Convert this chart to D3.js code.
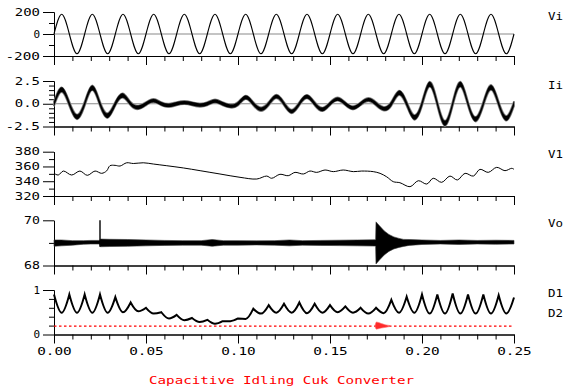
<!DOCTYPE html>
<html><head><meta charset="utf-8">
<script src="https://cdn.jsdelivr.net/npm/d3@7"></script>
<style>
body{margin:0;background:#fff}
svg{display:block}
text{font-family:"DejaVu Sans Mono",monospace;}
</style></head><body>
<svg id="c" width="567" height="392"></svg>
<script>
// ---------------- data ----------------
const timeDomain = [0, 0.25];
const xMajorTicks = [0, 0.05, 0.10, 0.15, 0.20, 0.25];
const xTickLabels = ["0.00", "0.05", "0.10", "0.15", "0.20", "0.25"];
const xMinorTicks = [0.01,0.02,0.03,0.04,0.06,0.07,0.08,0.09,0.11,0.12,0.13,0.14,0.16,0.17,0.18,0.19,0.21,0.22,0.23,0.24];
const quarterPeriod = 1 / 240; // 60 Hz mains: samples at zero crossings and peaks

const seriesNames = ["Vi", "Ii", "V1", "Vo", "D1", "D2"];
const title = "Capacitive Idling Cuk Converter";

// Vi: signed peak of each half cycle
const viPeaks = [180,-180,180,-180,180,-180,180,-180,180,-180,180,-180,180,-180,180,-180,180,-180,180,-180,180,-180,180,-180,180,-180,180,-180,180,-180];
// Ii: signed peak (band centre) of each half cycle and ripple half-band
const iiPeaks = [1.55,-1.45,1.75,-1.3,0.9,-0.4,0.35,-0.18,0.13,-0.15,0.3,-0.25,0.7,-0.6,0.8,-0.85,0.78,-0.62,0.52,-0.45,0.45,-0.55,1.2,-1.5,2.15,-2.15,2.15,-1.7,1.8,-1.6];
const iiBand  = [0.26,0.26,0.26,0.26,0.24,0.2,0.18,0.18,0.18,0.18,0.18,0.18,0.2,0.2,0.2,0.2,0.2,0.2,0.18,0.18,0.18,0.2,0.24,0.26,0.28,0.28,0.28,0.26,0.26,0.26];

// V1
const v1T = [0,0.0023,0.0051,0.0096,0.0141,0.0181,0.0223,0.0259,0.0286,0.0304,0.0332,0.0359,0.0395,0.0431,0.0485,0.054,0.0613,0.0703,0.0794,0.0902,0.1011,0.1102,0.1156,0.1183,0.1228,0.1273,0.131,0.1355,0.1391,0.1428,0.1473,0.1518,0.1572,0.1627,0.1672,0.1735,0.1772,0.1808,0.1844,0.188,0.1935,0.198,0.2026,0.2061,0.2107,0.2152,0.2192,0.2234,0.2279,0.2315,0.236,0.2406,0.2451,0.2488,0.25];
const v1V = [350.7,348.4,353.8,348.4,353.8,348,353.8,350.7,354,361,361.5,360.6,365,364,365,363.3,361,358,354.3,349.8,345.3,343,347,344,349.4,347.5,352,349.8,353.8,352,355.2,353,355.2,353,353.8,353,350.7,346,339.4,338,332.6,340.7,336.2,344,338.5,347,341.7,350.7,347,356.1,352,358.8,354.3,357.5,356.1];

// Vo: band centre and half width
const voT    = [0,0.004,0.01,0.016,0.02,0.0248,0.0252,0.03,0.04,0.05,0.06,0.07,0.08,0.086,0.092,0.1,0.11,0.12,0.128,0.135,0.145,0.155,0.165,0.1748,0.175,0.177,0.1795,0.182,0.1847,0.1875,0.19,0.193,0.2,0.21,0.22,0.23,0.24,0.25];
const voMid  = [68.99,69.0,69.0,69.02,69.03,69.03,69.0,69.0,69.0,69.0,69.0,69.0,69.0,69.0,69.0,69.0,69.0,69.0,69.0,69.0,69.0,69.0,69.0,69.0,69.0,69.0,69.0,69.0,69.0,69.0,69.0,69.02,69.03,69.03,69.03,69.03,69.03,69.03];
const voHalf = [0.14,0.13,0.1,0.08,0.08,0.08,0.17,0.16,0.15,0.13,0.11,0.1,0.1,0.15,0.1,0.1,0.09,0.1,0.13,0.1,0.11,0.12,0.13,0.14,0.93,0.75,0.53,0.375,0.265,0.2,0.155,0.13,0.1,0.08,0.1,0.08,0.09,0.08];
const voSpikeT = [0.025, 0.025];
const voSpikeV = [68.83, 70.0];

// D1: values at mains zero crossings (cusps) and at mains peaks (troughs)
const d1Peaks   = [0.9,0.9,0.9,0.9,0.84,0.72,0.6,0.5,0.44,0.37,0.33,0.3,0.36,0.58,0.66,0.69,0.72,0.69,0.66,0.63,0.6,0.6,0.78,0.85,0.9,0.9,0.92,0.9,0.9,0.88,0.83];
const d1Troughs = [0.49,0.49,0.49,0.49,0.5,0.52,0.47,0.36,0.32,0.28,0.24,0.3,0.35,0.47,0.49,0.49,0.48,0.49,0.5,0.49,0.47,0.48,0.49,0.49,0.47,0.47,0.47,0.47,0.47,0.47];
// D2
const d2T = [0, 0.25];
const d2V = [0.19, 0.19];
const d2BurstT    = [0.1745,0.1752,0.1765,0.178,0.18,0.1825];
const d2BurstMid  = [0.19,0.2,0.2,0.195,0.19,0.19];
const d2BurstHalf = [0.02,0.08,0.07,0.05,0.03,0.012];

// panels: domain, major ticks, labels, minor ticks
const panelDomains = [[-200,200],[-2.5,2.5],[320,380],[68,70],[0,1]];
const panelMajor = [[-200,0,200],[-2.5,0,2.5],[320,340,360,380],[68,70],[0,1]];
const panelMajorLabels = [["-200","0","200"],["-2.5","0.0","2.5"],["320","340","360","380"],["68","70"],["0","1"]];
const panelMinor = [[-100,100],[-2,-1.5,-1,-0.5,0.5,1,1.5,2],[330,350,370],[69],[0.2,0.4,0.6,0.8]];

// ---------------- layout ----------------
const svg = d3.select("#c");
const x = d3.scaleLinear(timeDomain, [54, 514]);
const panelTop = [12, 81, 151.7, 220.3, 290];
const panelBottom = [56, 126.5, 196, 265.5, 334.5];
const ys = panelDomains.map((d, i) => d3.scaleLinear(d, [panelBottom[i], panelTop[i]]));

const FONT = 9.6, ADV = 9.3, GLYPH = 6.6;
function fitText(sel, n, adv, g) {
  sel.attr("textLength", n * adv - (adv - g)).attr("lengthAdjust", "spacingAndGlyphs");
}

ys.forEach((y, i) => {
  const g = svg.append("g");
  const ax = g.append("g").attr("transform", `translate(${x(0)},0)`)
    .call(d3.axisLeft(y).tickValues(panelMajor[i]).tickSize(11).tickSizeOuter(0).tickPadding(3)
      .tickFormat((d, k) => panelMajorLabels[i][k]));
  ax.append("g").call(d3.axisLeft(y).tickValues(panelMinor[i]).tickSize(5).tickSizeOuter(0).tickFormat(""));
  const bx = g.append("g").attr("transform", `translate(0,${panelBottom[i]})`)
    .call(d3.axisBottom(x).tickValues(xMajorTicks).tickSize(9).tickSizeOuter(0).tickPadding(5)
      .tickFormat((d, k) => i === 4 ? xTickLabels[k] : ""));
  bx.append("g").call(d3.axisBottom(x).tickValues(xMinorTicks).tickSize(5).tickSizeOuter(0).tickFormat(""));
  g.selectAll(".domain").attr("stroke", "#000").attr("stroke-width", 1);
  g.selectAll(".tick line").attr("stroke", "#000").attr("stroke-width", 1);
  g.selectAll("text").attr("font-family", '"DejaVu Sans Mono",monospace').attr("font-size", FONT).attr("fill", "#000")
    .each(function () { const t = d3.select(this); const s = t.text(); if (s) fitText(t, s.length, ADV, GLYPH); });
});

// zero lines in Vi / Ii
[0, 1].forEach(i => {
  svg.append("line").attr("x1", x(0)).attr("x2", x(0.25)).attr("y1", ys[i](0)).attr("y2", ys[i](0))
    .attr("stroke", "#8a8a8a").attr("stroke-width", 1.2);
});

const grid = d3.range(0, 61).map(j => j * quarterPeriod);
// Vi
const viPts = grid.map((t, j) => [t, j % 2 ? viPeaks[(j - 1) / 2] : 0]);
svg.append("path").datum(viPts)
  .attr("d", d3.line().x(d => x(d[0])).y(d => ys[0](d[1])).curve(d3.curveNatural))
  .attr("fill", "none").attr("stroke", "#000").attr("stroke-width", 1.1);

// Ii band
const iiPts = grid.map((t, j) => {
  const h = j % 2 ? (j - 1) / 2 : Math.min(j / 2, 29);
  return { t, v: j % 2 ? iiPeaks[h] : 0, b: iiBand[h] };
});
const iiArea = d3.area().x(d => x(d.t)).y0(d => ys[1](d.v - d.b)).y1(d => ys[1](d.v + d.b)).curve(d3.curveNatural);
svg.append("path").datum(iiPts).attr("d", iiArea)
  .attr("fill", "none").attr("stroke", "#9a9a9a").attr("stroke-width", 1.8);
svg.append("path").datum(iiPts).attr("d", iiArea)
  .attr("fill", "#000").attr("stroke", "#000").attr("stroke-width", 0.4);

// V1
svg.append("path").datum(v1T.map((t, k) => [t, v1V[k]]))
  .attr("d", d3.line().x(d => x(d[0])).y(d => ys[2](d[1])).curve(d3.curveCatmullRom.alpha(0.5)))
  .attr("fill", "none").attr("stroke", "#000").attr("stroke-width", 1);

// Vo band
svg.append("path").datum(voT.map((t, k) => ({ t, m: voMid[k], h: voHalf[k] })))
  .attr("d", d3.area().x(d => x(d.t)).y0(d => ys[3](d.m - d.h)).y1(d => ys[3](d.m + d.h)))
  .attr("fill", "#000").attr("stroke", "#333").attr("stroke-width", 0.6);
svg.append("path").datum(voSpikeT.map((t, k) => [t, voSpikeV[k]]))
  .attr("d", d3.line().x(d => x(d[0])).y(d => ys[3](d[1])))
  .attr("stroke", "#000").attr("stroke-width", 1.4);

// D2 (under D1)
svg.append("path").datum(d2T.map((t, k) => [t, d2V[k]]))
  .attr("d", d3.line().x(d => x(d[0])).y(d => ys[4](d[1])))
  .attr("fill", "none").attr("stroke", "#ff0000").attr("stroke-width", 1.3).attr("stroke-dasharray", "2.5,2.5");
svg.append("path").datum(d2BurstT.map((t, k) => ({ t, m: d2BurstMid[k], h: d2BurstHalf[k] })))
  .attr("d", d3.area().x(d => x(d.t)).y0(d => ys[4](d.m - d.h)).y1(d => ys[4](d.m + d.h)).curve(d3.curveMonotoneX))
  .attr("fill", "#ff2a2a").attr("stroke", "#ff8080").attr("stroke-width", 0.6);

// D1
const d1Pts = grid.map((t, j) => [x(t), ys[4](j % 2 ? d1Troughs[(j - 1) / 2] : d1Peaks[j / 2]), j % 2]);
const p = d3.path();
p.moveTo(d1Pts[0][0], d1Pts[0][1]);
for (let k = 1; k < d1Pts.length; k++) {
  const a = d1Pts[k - 1], b = d1Pts[k];
  const f = b[2] ? 0.64 : 0.36;
  const cy = b[2] ? b[1] : a[1];
  p.quadraticCurveTo(a[0] + f * (b[0] - a[0]), cy, b[0], b[1]);
}
svg.append("path").attr("d", p.toString()).attr("fill", "none").attr("stroke", "#000").attr("stroke-width", 2);

// series labels on the right
const labelY = [16, 85, 154, 223, 293, 313];
seriesNames.forEach((s, i) => {
  const t = svg.append("text").attr("x", 548).attr("y", labelY[i] + 3.5).attr("font-size", FONT).attr("fill", "#000").text(s);
  fitText(t, s.length, 10.5, 4.5);
});

// title
const tt = svg.append("text").attr("x", 149).attr("y", 383.5).attr("font-size", 11.2).attr("fill", "#ff0000").text(title);
tt.attr("textLength", 265).attr("lengthAdjust", "spacingAndGlyphs");
</script>
</body></html>
